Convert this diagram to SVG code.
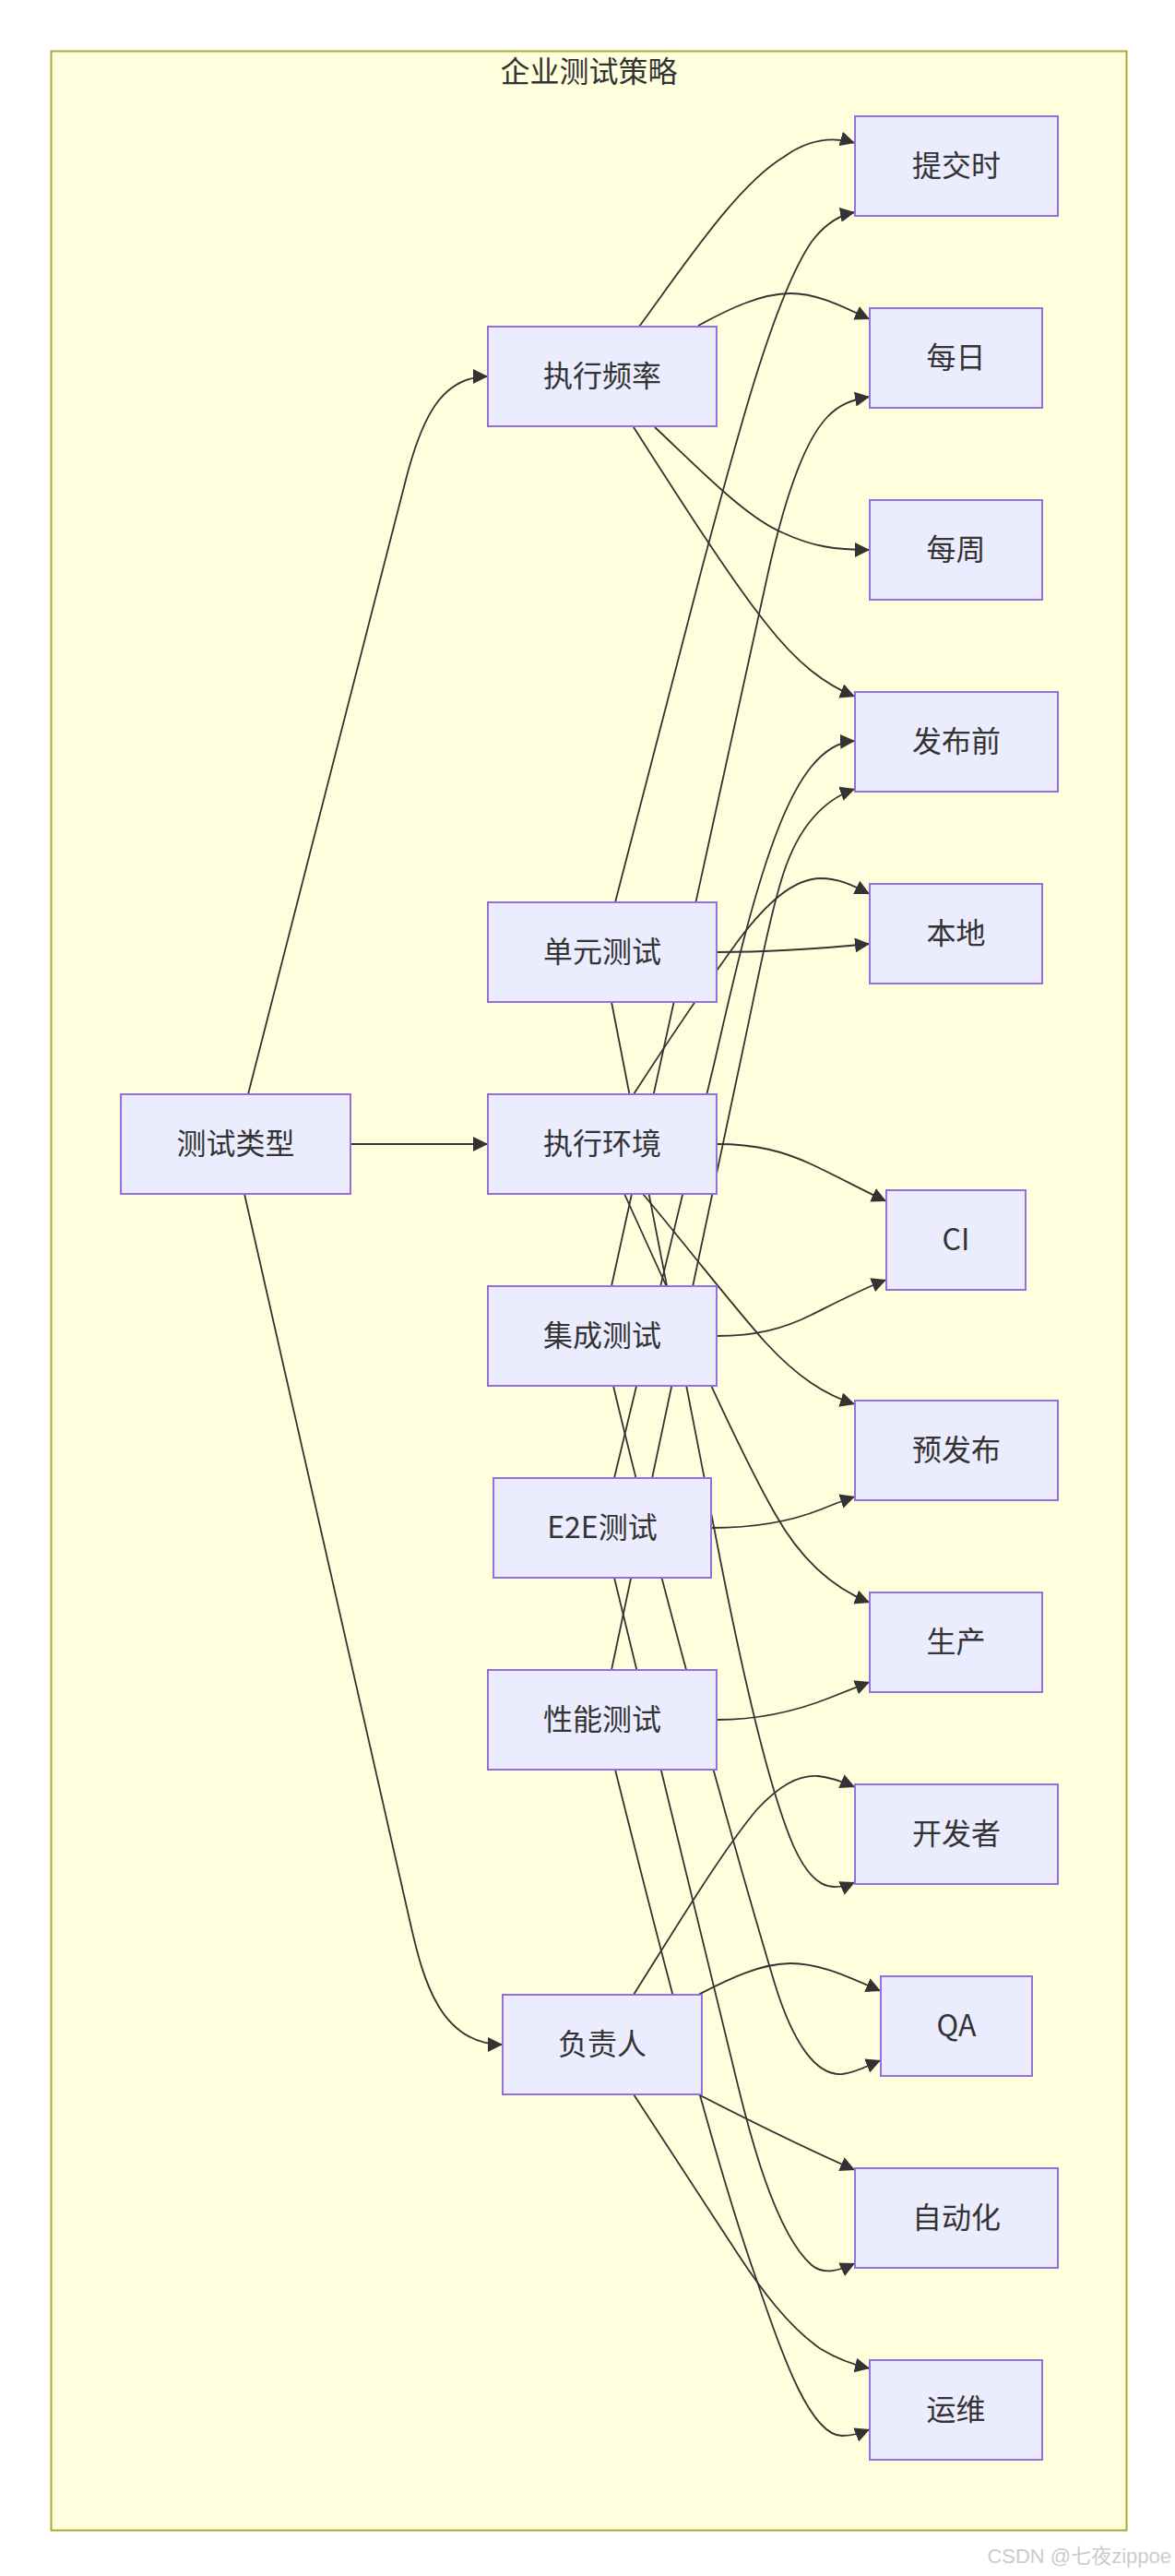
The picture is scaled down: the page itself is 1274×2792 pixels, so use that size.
<svg xmlns="http://www.w3.org/2000/svg" width="1274" height="2792" viewBox="0 0 1274 2792">
<defs>
<marker id="arr" viewBox="0 0 10 10" refX="10" refY="5" markerWidth="16" markerHeight="16" markerUnits="userSpaceOnUse" orient="auto">
<path d="M0,0 L10,5 L0,10 z" fill="#333333"/>
</marker>
</defs>
<style>
.node rect{fill:#ECECFF;stroke:#9370DB;stroke-width:2}
.node text{font-family:"Noto Sans CJK SC","Noto Sans",sans-serif;font-size:32px;fill:#333333;text-anchor:middle}
.edge path{fill:none;stroke:#333333;stroke-width:1.8;marker-end:url(#arr)}
.title{font-family:"Noto Sans CJK SC","Noto Sans",sans-serif;font-size:32px;fill:#333333;text-anchor:middle}
.wm{font-family:"Liberation Sans","Noto Sans CJK SC",sans-serif;font-size:22px;fill:#cccccc;text-anchor:end}
</style>
<rect width="1274" height="2792" fill="#ffffff"/>
<g id="cluster">
<rect x="55.5" y="55.5" width="1166" height="2687" fill="#ffffde" stroke="#aaaa33" stroke-width="2"/>
<text class="title" x="638.5" y="89">企业测试策略</text>
</g>
<g id="connectors" class="edge">
<path d="M269,1186 L440,520 C458,450 480,408 529,408"/>
<path d="M380,1240 L529,1240"/>
<path d="M265,1294 L445,2085 C459,2147 478,2216 545,2216"/>
<path d="M693,354 C745,283 800,200 850,170 C875,152 900,147 927,155"/>
<path d="M757,353 C790,335 825,318 857,318 C887,318 915,333 943,346"/>
<path d="M710,463 C760,510 810,562 850,578 C880,592 905,596 943,596"/>
<path d="M687,463 C730,530 790,625 830,675 C865,720 895,742 927,755"/>
<path d="M667,978 L760,620 C800,470 840,320 880,262 C895,242 910,233 927,230"/>
<path d="M663,1394 L833,620 C848,553 870,480 897,452 C910,438 925,433 943,430"/>
<path d="M777,1032 C830,1032 880,1029 943,1023"/>
<path d="M687,1186 C720,1135 760,1075 800,1020 C830,980 860,952 890,952 C910,952 925,960 943,969"/>
<path d="M777,1240 C820,1240 850,1248 880,1262 C910,1276 935,1290 961,1302"/>
<path d="M777,1448 C820,1448 850,1440 880,1425 C910,1410 935,1397 961,1387"/>
<path d="M697,1294 C740,1345 790,1410 830,1455 C865,1493 895,1512 927,1522"/>
<path d="M677,1294 L722,1393 C745,1445 800,1570 840,1640 C865,1685 900,1720 943,1737"/>
<path d="M663,1810 L805,1140 C820,1070 835,990 850,945 C865,900 890,868 927,855"/>
<path d="M666,1602 L775,1150 C790,1085 815,970 845,895 C865,845 890,805 927,803"/>
<path d="M771,1656 C820,1656 860,1648 890,1636 C905,1630 915,1626 927,1622"/>
<path d="M777,1864 C830,1864 870,1852 900,1840 C920,1832 930,1828 943,1823"/>
<path d="M663,1086 L775,1660 C800,1790 830,1930 860,2000 C880,2045 900,2052 927,2040"/>
<path d="M665,1502 C700,1650 780,1950 840,2150 C860,2215 885,2250 913,2248 C930,2246 940,2239 955,2233"/>
<path d="M666,1710 L800,2260 C812,2309 840,2420 880,2455 C893,2466 910,2461 927,2453"/>
<path d="M667,1918 C700,2050 770,2330 820,2470 C850,2560 880,2640 913,2640 C925,2640 933,2637 943,2633"/>
<path d="M687,2162 C720,2110 780,2010 820,1962 C845,1935 865,1924 887,1925 C900,1926 913,1931 927,1937"/>
<path d="M757,2162 C790,2145 825,2128 857,2128 C890,2128 920,2143 955,2158"/>
<path d="M757,2270 C800,2292 870,2327 927,2352"/>
<path d="M687,2270 L800,2443 C825,2481 855,2522 890,2546 C910,2558 925,2563 943,2567"/>
</g>
<g id="n-type" class="node"><rect x="131" y="1186" width="249" height="108"/><text x="255.5" y="1251">测试类型</text></g>
<g id="n-freq" class="node"><rect x="529" y="354" width="248" height="108"/><text x="653" y="419">执行频率</text></g>
<g id="n-unit" class="node"><rect x="529" y="978" width="248" height="108"/><text x="653" y="1043">单元测试</text></g>
<g id="n-env" class="node"><rect x="529" y="1186" width="248" height="108"/><text x="653" y="1251">执行环境</text></g>
<g id="n-int" class="node"><rect x="529" y="1394" width="248" height="108"/><text x="653" y="1459">集成测试</text></g>
<g id="n-e2e" class="node"><rect x="535" y="1602" width="236" height="108"/><text x="653" y="1667">E2E测试</text></g>
<g id="n-perf" class="node"><rect x="529" y="1810" width="248" height="108"/><text x="653" y="1875">性能测试</text></g>
<g id="n-owner" class="node"><rect x="545" y="2162" width="216" height="108"/><text x="653" y="2227">负责人</text></g>
<g id="n-commit" class="node"><rect x="927" y="126" width="220" height="108"/><text x="1037" y="191">提交时</text></g>
<g id="n-daily" class="node"><rect x="943" y="334" width="187" height="108"/><text x="1036.5" y="399">每日</text></g>
<g id="n-weekly" class="node"><rect x="943" y="542" width="187" height="108"/><text x="1036.5" y="607">每周</text></g>
<g id="n-prerel" class="node"><rect x="927" y="750" width="220" height="108"/><text x="1037" y="815">发布前</text></g>
<g id="n-local" class="node"><rect x="943" y="958" width="187" height="108"/><text x="1036.5" y="1023">本地</text></g>
<g id="n-ci" class="node"><rect x="961" y="1290" width="151" height="108"/><text x="1036.5" y="1355">CI</text></g>
<g id="n-staging" class="node"><rect x="927" y="1518" width="220" height="108"/><text x="1037" y="1583">预发布</text></g>
<g id="n-prod" class="node"><rect x="943" y="1726" width="187" height="108"/><text x="1036.5" y="1791">生产</text></g>
<g id="n-dev" class="node"><rect x="927" y="1934" width="220" height="108"/><text x="1037" y="1999">开发者</text></g>
<g id="n-qa" class="node"><rect x="955" y="2142" width="164" height="108"/><text x="1037" y="2207">QA</text></g>
<g id="n-auto" class="node"><rect x="927" y="2350" width="220" height="108"/><text x="1037" y="2415">自动化</text></g>
<g id="n-ops" class="node"><rect x="943" y="2558" width="187" height="108"/><text x="1036.5" y="2623">运维</text></g>
<text class="wm" x="1270" y="2778">CSDN @七夜zippoe</text>
</svg>
